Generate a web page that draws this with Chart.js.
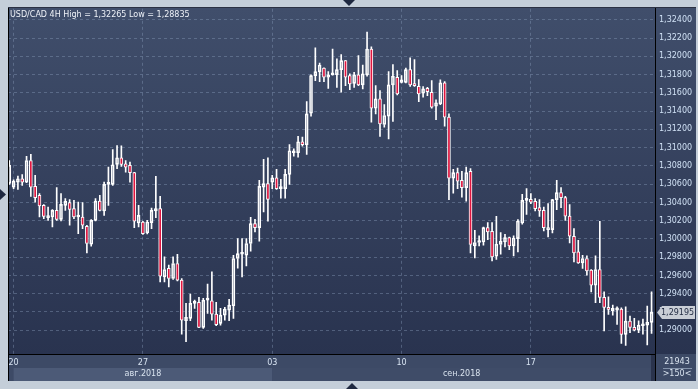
<!DOCTYPE html>
<html>
<head>
<meta charset="utf-8">
<script src="https://cdn.jsdelivr.net/npm/chart.js@4.4.0/dist/chart.umd.min.js"></script>
<style>
html, body { margin: 0; padding: 0; background: #c4ced9; overflow: hidden; }
</style>
</head>
<body>
<canvas id="chart" width="698" height="389"></canvas>
<script>
// USD/CAD 4H candles, 150 bars
const opens = [
  1.30609, 1.30568, 1.30623, 1.30660, 1.30623, 1.30860, 1.30576, 1.30478, 1.30368, 1.30234,
  1.30241, 1.30314, 1.30215, 1.30368, 1.30398, 1.30332, 1.30241, 1.30241, 1.30139, 1.29942,
  1.30204, 1.30415, 1.30306, 1.30598, 1.30598, 1.30817, 1.30890, 1.30824, 1.30806, 1.30726,
  1.30175, 1.30186, 1.30066, 1.30179, 1.30306, 1.30332, 1.29585, 1.29677, 1.29567, 1.29731,
  1.29549, 1.29104, 1.29130, 1.29294, 1.29305, 1.29032, 1.29330, 1.29322, 1.29177, 1.29075,
  1.29166, 1.29221, 1.29268, 1.29786, 1.29833, 1.29822, 1.29950, 1.30168, 1.30125, 1.30568,
  1.30606, 1.30623, 1.30671, 1.30551, 1.30551, 1.30707, 1.30944, 1.30944, 1.31065, 1.31032,
  1.31377, 1.31789, 1.31830, 1.31873, 1.31771, 1.31797, 1.31800, 1.31855, 1.31953, 1.31789,
  1.31705, 1.31797, 1.31688, 1.31797, 1.32081, 1.31432, 1.31535, 1.31254, 1.31345, 1.31688,
  1.31771, 1.31716, 1.31716, 1.31855, 1.31684, 1.31672, 1.31596, 1.31650, 1.31607, 1.31454,
  1.31480, 1.31710, 1.31334, 1.30667, 1.30726, 1.30642, 1.30562, 1.30740, 1.29924, 1.29961,
  1.29967, 1.30125, 1.30084, 1.29811, 1.29939, 1.29967, 1.30015, 1.29924, 1.30004, 1.30175,
  1.30423, 1.30434, 1.30412, 1.30343, 1.30314, 1.30103, 1.30103, 1.30431, 1.30507, 1.30453,
  1.30251, 1.30030, 1.29858, 1.29738, 1.29786, 1.29658, 1.29494, 1.29666, 1.29360, 1.29250,
  1.29213, 1.29221, 1.29232, 1.28955, 1.29100, 1.29032, 1.29002, 1.29049, 1.29055, 1.29086
];
const highs = [
  1.30860, 1.30649, 1.30689, 1.30704, 1.30904, 1.30926, 1.30696, 1.30496, 1.30376, 1.30350,
  1.30321, 1.30562, 1.30496, 1.30442, 1.30431, 1.30423, 1.30404, 1.30398, 1.30150, 1.30212,
  1.30442, 1.30478, 1.30623, 1.30787, 1.30980, 1.31024, 1.31020, 1.30860, 1.30842, 1.30730,
  1.30368, 1.30194, 1.30204, 1.30339, 1.30685, 1.30467, 1.29803, 1.29713, 1.29803, 1.29833,
  1.29567, 1.29294, 1.29396, 1.29330, 1.29360, 1.29349, 1.29505, 1.29639, 1.29305, 1.29239,
  1.29250, 1.29338, 1.29822, 1.30004, 1.30004, 1.30004, 1.30237, 1.30215, 1.30642, 1.30871,
  1.30890, 1.30696, 1.30762, 1.30653, 1.30762, 1.31035, 1.30988, 1.31123, 1.31115, 1.31505,
  1.31797, 1.32095, 1.31928, 1.31876, 1.31833, 1.32081, 1.31972, 1.32019, 1.31955, 1.31808,
  1.31825, 1.32008, 1.31906, 1.32265, 1.32106, 1.31680, 1.31625, 1.31472, 1.31833, 1.31910,
  1.31844, 1.31789, 1.31873, 1.31983, 1.31964, 1.31746, 1.31669, 1.31661, 1.31735, 1.31524,
  1.31742, 1.31724, 1.31371, 1.30762, 1.30776, 1.30740, 1.30787, 1.30770, 1.30095, 1.30033,
  1.30131, 1.30179, 1.30179, 1.30248, 1.30070, 1.30051, 1.30022, 1.30033, 1.30212, 1.30489,
  1.30551, 1.30496, 1.30442, 1.30431, 1.30350, 1.30387, 1.30435, 1.30642, 1.30562, 1.30467,
  1.30376, 1.30114, 1.29986, 1.29822, 1.29814, 1.29666, 1.29814, 1.30194, 1.29421, 1.29366,
  1.29275, 1.29257, 1.29246, 1.29257, 1.29155, 1.29130, 1.29104, 1.29122, 1.29264, 1.29421
];
const lows = [
  1.30598, 1.30551, 1.30543, 1.30587, 1.30618, 1.30467, 1.30404, 1.30241, 1.30223, 1.30204,
  1.30131, 1.30204, 1.30197, 1.30314, 1.30150, 1.30223, 1.30059, 1.30114, 1.29847, 1.29920,
  1.30197, 1.30306, 1.30259, 1.30368, 1.30587, 1.30770, 1.30795, 1.30732, 1.30623, 1.30125,
  1.30131, 1.30051, 1.30055, 1.30114, 1.30234, 1.29530, 1.29530, 1.29475, 1.29556, 1.29541,
  1.28958, 1.28874, 1.29104, 1.29239, 1.29028, 1.29021, 1.29185, 1.29111, 1.29051, 1.29055,
  1.29111, 1.29104, 1.29130, 1.29680, 1.29585, 1.29705, 1.29866, 1.30077, 1.29975, 1.30295,
  1.30194, 1.30551, 1.30543, 1.30448, 1.30448, 1.30598, 1.30907, 1.30896, 1.31017, 1.30926,
  1.31344, 1.31735, 1.31724, 1.31724, 1.31650, 1.31795, 1.31661, 1.31607, 1.31680, 1.31636,
  1.31661, 1.31680, 1.31644, 1.31782, 1.31279, 1.31371, 1.31123, 1.31224, 1.31097, 1.31287,
  1.31578, 1.31710, 1.31710, 1.31672, 1.31672, 1.31505, 1.31552, 1.31571, 1.31432, 1.31308,
  1.31472, 1.31235, 1.30431, 1.30503, 1.30551, 1.30459, 1.30415, 1.29847, 1.29792, 1.29924,
  1.29931, 1.29993, 1.29760, 1.29775, 1.29833, 1.29913, 1.29884, 1.29814, 1.29858, 1.30161,
  1.30270, 1.30387, 1.30306, 1.30248, 1.30087, 1.30022, 1.30066, 1.30321, 1.30343, 1.30204,
  1.29956, 1.29749, 1.29731, 1.29677, 1.29603, 1.29421, 1.29301, 1.29301, 1.28994, 1.29174,
  1.29166, 1.29064, 1.28857, 1.28835, 1.28973, 1.28994, 1.28973, 1.28958, 1.28838, 1.28966
];
const closes = [
  1.30806, 1.30634, 1.30660, 1.30623, 1.30860, 1.30568, 1.30453, 1.30361, 1.30248, 1.30248,
  1.30314, 1.30215, 1.30379, 1.30412, 1.30325, 1.30241, 1.30248, 1.30150, 1.29950, 1.30204,
  1.30415, 1.30314, 1.30598, 1.30606, 1.30813, 1.30890, 1.30817, 1.30787, 1.30726, 1.30194,
  1.30259, 1.30059, 1.30186, 1.30314, 1.30332, 1.29592, 1.29666, 1.29567, 1.29731, 1.29549,
  1.29111, 1.29141, 1.29294, 1.29305, 1.29032, 1.29330, 1.29336, 1.29177, 1.29062, 1.29166,
  1.29232, 1.29275, 1.29786, 1.29840, 1.29840, 1.29950, 1.30168, 1.30125, 1.30576, 1.30606,
  1.30434, 1.30671, 1.30551, 1.30555, 1.30707, 1.30966, 1.30959, 1.31065, 1.31032, 1.31371,
  1.31789, 1.31833, 1.31906, 1.31771, 1.31797, 1.31800, 1.31855, 1.31953, 1.31771, 1.31699,
  1.31797, 1.31688, 1.31808, 1.32081, 1.31432, 1.31535, 1.31261, 1.31352, 1.31688, 1.31782,
  1.31589, 1.31742, 1.31855, 1.31688, 1.31680, 1.31589, 1.31644, 1.31614, 1.31443, 1.31491,
  1.31710, 1.31334, 1.30667, 1.30726, 1.30634, 1.30562, 1.30726, 1.29939, 1.29961, 1.29975,
  1.30125, 1.30077, 1.29803, 1.29942, 1.29975, 1.30015, 1.29924, 1.30011, 1.30197, 1.30423,
  1.30426, 1.30404, 1.30332, 1.30306, 1.30125, 1.30125, 1.30431, 1.30507, 1.30453, 1.30251,
  1.30030, 1.29847, 1.29738, 1.29786, 1.29650, 1.29494, 1.29666, 1.29360, 1.29250, 1.29228,
  1.29239, 1.29246, 1.28955, 1.29100, 1.29032, 1.29002, 1.29055, 1.29068, 1.29086, 1.29195
];

// x axis: bar index where each week starts, and the day shown there
const weekStarts = [1, 31, 61, 91, 121];
const weekLabels = ['20', '27', '03', '10', '17'];
const monthStarts = [1, 61];
const monthLabels = ['авг.2018', 'сен.2018'];

// y axis ticks
const priceTicks = [1.290, 1.292, 1.294, 1.296, 1.298, 1.300, 1.302, 1.304, 1.306, 1.308,
                    1.310, 1.312, 1.314, 1.316, 1.318, 1.320, 1.322, 1.324];

const titleText = 'USD/CAD 4H High = 1,32265 Low = 1,28835';
const barCount = '21943';
const visibleBars = '>150<';

const RED = '#e0153f';
const WHITE = '#ffffff';
const FONT = 'DejaVu Sans';

const fmt = v => v.toFixed(5).replace('.', ',');
const isDown = i => closes[i] < opens[i];

const bodies = opens.map((o, i) => ({ x: i, y: [o, closes[i]] }));
const upperWicks = opens.map((o, i) => ({ x: i, y: [Math.max(o, closes[i]), highs[i]] }));
const lowerWicks = opens.map((o, i) => ({ x: i, y: [lows[i], Math.min(o, closes[i])] }));

function triangle(ctx, pts) {
    ctx.beginPath();
    ctx.moveTo(pts[0], pts[1]);
    ctx.lineTo(pts[2], pts[3]);
    ctx.lineTo(pts[4], pts[5]);
    ctx.closePath();
    ctx.fill();
}

// panel background, bottom strip, borders and labels around the plot
const frame = {
    id: 'frame',
    beforeDraw(chart) {
        const { ctx, chartArea: a, scales: { x } } = chart;
        ctx.save();
        ctx.fillStyle = '#c4ced9';
        ctx.fillRect(0, 0, chart.width, chart.height);

        const g = ctx.createLinearGradient(0, a.top, 0, a.bottom);
        g.addColorStop(0, '#404e6b');
        g.addColorStop(1, '#29334f');
        ctx.fillStyle = g;
        ctx.fillRect(8, 7, 688, a.bottom - 7);

        ctx.fillStyle = '#3d4a66';
        ctx.fillRect(8, a.bottom, 688, 27);

        monthStarts.forEach((m, i) => {
            const x0 = x.getPixelForValue(m);
            const x1 = i + 1 < monthStarts.length ? x.getPixelForValue(monthStarts[i + 1]) : a.right - 4;
            ctx.fillStyle = i % 2 === 0 ? '#4c5a77' : '#3f4c68';
            ctx.fillRect(x0, a.bottom + 14, x1 - x0, 13);
        });
        ctx.fillStyle = '#2a334c';
        ctx.fillRect(a.right - 4, a.bottom + 1, 4, 26);
        ctx.restore();
    },
    afterDraw(chart) {
        const { ctx, chartArea: a, scales: { x, y } } = chart;
        ctx.save();
        ctx.strokeStyle = '#000000';
        ctx.lineWidth = 1;
        ctx.beginPath();
        ctx.moveTo(8.5, 7);
        ctx.lineTo(8.5, a.bottom + 27);
        ctx.moveTo(a.right + 0.5, a.bottom);
        ctx.lineTo(a.right + 0.5, a.bottom + 27);
        ctx.stroke();
        ctx.strokeStyle = '#2b3143';
        ctx.beginPath();
        ctx.moveTo(8, 7.5);
        ctx.lineTo(696, 7.5);
        ctx.stroke();

        ctx.font = '8px "' + FONT + '"';
        ctx.textBaseline = 'middle';
        ctx.fillStyle = '#eef2f8';
        ctx.textAlign = 'left';
        ctx.fillText(titleText, 10, 14.5);

        ctx.fillStyle = '#d8e2ee';
        ctx.textAlign = 'center';
        monthStarts.forEach((m, i) => {
            const x0 = x.getPixelForValue(m);
            const x1 = i + 1 < monthStarts.length ? x.getPixelForValue(monthStarts[i + 1]) : a.right - 4;
            ctx.fillText(monthLabels[i], (x0 + x1) / 2, a.bottom + 20);
        });

        // right bottom cell
        ctx.fillStyle = '#d8e2ee';
        ctx.fillText(barCount, 677, a.bottom + 8);
        ctx.fillText(visibleBars, 677, a.bottom + 20);
        ctx.strokeStyle = '#8493ab';
        ctx.beginPath();
        ctx.moveTo(663, a.bottom + 14.5);
        ctx.lineTo(692, a.bottom + 14.5);
        ctx.stroke();

        // last price tag
        const last = closes[closes.length - 1];
        const py = y.getPixelForValue(last);
        ctx.fillStyle = '#c9ced6';
        ctx.beginPath();
        ctx.moveTo(a.right + 2, py);
        ctx.lineTo(a.right + 7, py - 6.5);
        ctx.lineTo(695, py - 6.5);
        ctx.lineTo(695, py + 6.5);
        ctx.lineTo(a.right + 7, py + 6.5);
        ctx.closePath();
        ctx.fill();
        ctx.fillStyle = '#1f2940';
        ctx.textAlign = 'left';
        ctx.fillText(fmt(last), a.right + 6, py + 0.5);

        // scroll markers
        ctx.fillStyle = '#1e2840';
        triangle(ctx, [343, 0, 355, 0, 349, 6]);
        triangle(ctx, [346, 389, 358, 389, 352, 383]);
        triangle(ctx, [0, 189, 0, 200, 6, 194.5]);
        ctx.restore();
    }
};

Chart.defaults.font.family = FONT;
Chart.defaults.font.size = 8;

const wickStyle = {
    type: 'bar',
    backgroundColor: WHITE,
    borderWidth: 0,
    barThickness: 1,
    grouped: false
};

new Chart(document.getElementById('chart'), {
    type: 'bar',
    data: {
        datasets: [
            {
                data: bodies,
                backgroundColor: ctx => isDown(ctx.dataIndex) ? RED : 'rgba(0,0,0,0)',
                borderColor: WHITE,
                borderWidth: 1,
                borderSkipped: false,
                barThickness: 3,
                minBarLength: 2,
                grouped: false
            },
            Object.assign({ data: upperWicks }, wickStyle),
            Object.assign({ data: lowerWicks }, wickStyle)
        ]
    },
    options: {
        responsive: false,
        devicePixelRatio: 1,
        animation: false,
        layout: { padding: { left: 8, top: 8, right: 0, bottom: 0 } },
        plugins: {
            legend: { display: false },
            tooltip: { enabled: false }
        },
        scales: {
            x: {
                type: 'linear',
                offset: false,
                min: -0.3,
                max: 149.8,
                afterFit: s => { s.height = 35; },
                afterBuildTicks: s => { s.ticks = weekStarts.map(v => ({ value: v })); },
                grid: {
                    offset: false,
                    color: 'rgba(140,160,190,0.4)',
                    drawTicks: false
                },
                border: { color: '#000000', width: 1, dash: [3, 3] },
                ticks: {
                    autoSkip: false,
                    maxRotation: 0,
                    padding: 4,
                    color: '#d8e4f2',
                    callback: (v, i) => weekLabels[i]
                }
            },
            y: {
                type: 'linear',
                position: 'right',
                min: 1.287399,
                max: 1.325213,
                afterFit: s => { s.width = 43; },
                afterBuildTicks: s => { s.ticks = priceTicks.map(v => ({ value: v })); },
                grid: {
                    color: 'rgba(140,160,190,0.4)',
                    drawTicks: false
                },
                border: { color: '#000000', width: 1, dash: [3, 3] },
                ticks: {
                    padding: 4,
                    color: '#cfe0f4',
                    callback: v => fmt(v)
                }
            }
        }
    },
    plugins: [frame]
});
</script>
</body>
</html>
